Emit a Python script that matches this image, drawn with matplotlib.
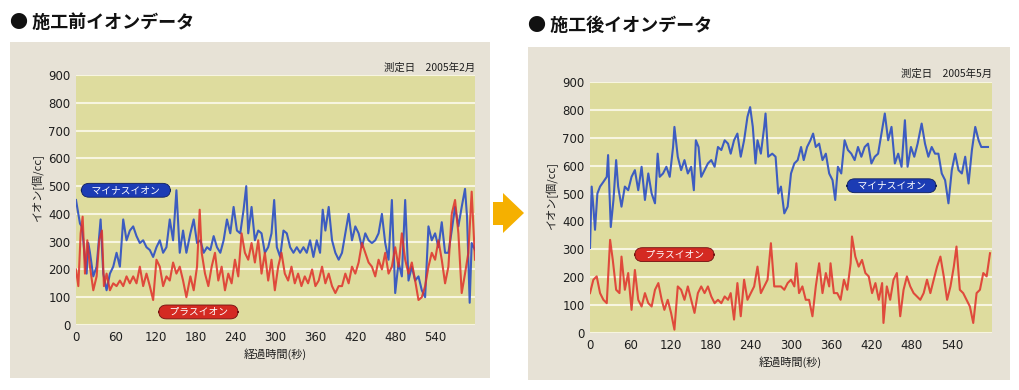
import numpy as np
import matplotlib
matplotlib.use("Agg")
import matplotlib.pyplot as plt
from matplotlib.patches import Rectangle, Polygon

plt.rcParams['font.family'] = ['Noto Sans CJK JP', 'DejaVu Sans']

# ---------------- data ----------------
before_minus_t = [0, 3.5, 6, 8.5, 11, 13.5, 16, 18.5, 21, 26, 31, 37, 41, 46, 51, 56, 61, 66, 71, 76, 81, 86, 91, 96,
                  101, 106, 111, 116, 121, 126, 131, 136, 141, 146, 151, 156, 161, 166, 172, 177, 182, 187, 192, 197,
                  202, 207, 212, 217, 222, 227, 232, 237, 242, 247, 252, 256, 259, 264, 269, 274, 279, 284, 289, 294,
                  298, 302, 307, 312, 317, 322, 327, 332, 337, 342, 347, 352, 357, 362, 367, 371, 375, 380, 385, 390,
                  395, 400, 405, 410, 415, 420, 425, 430, 435, 440, 445, 450, 455, 460, 465, 470, 475, 480, 485, 490,
                  495, 500, 505, 510, 515, 520, 525, 530, 535, 540, 545, 550, 555, 560, 565, 570, 575, 580, 585, 588,
                  592, 595, 600]
before_minus_v = [450, 400, 365, 355, 305, 235, 185, 295, 260, 175, 210, 380, 185, 125, 185, 210, 260, 210, 380, 305,
                  340, 355, 320, 295, 305, 280, 270, 245, 280, 305, 260, 280, 380, 305, 485, 260, 340, 260, 330, 380,
                  295, 305, 260, 280, 270, 320, 280, 260, 305, 380, 330, 425, 340, 330, 415, 500, 330, 425, 305, 340,
                  330, 260, 280, 330, 450, 280, 245, 340, 330, 280, 260, 280, 260, 280, 260, 305, 245, 305, 260, 415,
                  340, 425, 305, 260, 235, 260, 330, 400, 305, 355, 330, 280, 330, 305, 295, 305, 330, 400, 295, 235,
                  450, 115, 225, 175, 450, 160, 210, 160, 175, 125, 100, 355, 305, 330, 280, 370, 260, 260, 340, 425,
                  355, 425, 490, 390, 80, 295, 270]

before_plus_t = [0, 3.5, 7, 10, 13.5, 17, 21, 26, 31, 35, 39, 42, 46, 51, 56, 61, 66, 71, 76, 81, 86, 91, 96, 101,
                 106, 111, 116, 121, 126, 131, 136, 141, 146, 151, 156, 161, 166, 172, 177, 182, 186, 189, 194, 199,
                 204, 209, 214, 219, 224, 229, 234, 239, 244, 249, 254, 259, 264, 269, 274, 279, 284, 289, 294, 299,
                 304, 309, 314, 319, 324, 329, 334, 339, 344, 349, 355, 360, 365, 370, 375, 380, 385, 390, 395, 400,
                 405, 410, 415, 420, 425, 430, 435, 440, 445, 450, 455, 460, 465, 470, 475, 480, 485, 490, 495, 500,
                 505, 510, 515, 520, 525, 530, 535, 540, 545, 550, 555, 560, 565, 570, 575, 580, 585, 590, 595, 600]
before_plus_v = [200, 140, 330, 390, 185, 305, 210, 125, 175, 305, 340, 140, 185, 125, 150, 140, 160, 140, 175, 150,
                 175, 150, 210, 140, 185, 140, 90, 235, 210, 140, 175, 160, 225, 185, 210, 160, 100, 175, 125, 210,
                 415, 260, 185, 140, 210, 260, 160, 210, 125, 185, 150, 235, 175, 330, 260, 235, 295, 225, 305, 185,
                 260, 160, 235, 125, 210, 260, 185, 160, 210, 150, 185, 140, 175, 150, 200, 140, 160, 210, 150, 185,
                 140, 115, 140, 140, 185, 150, 210, 185, 225, 295, 260, 225, 210, 175, 235, 200, 260, 185, 210, 280,
                 210, 330, 235, 185, 225, 160, 90, 100, 140, 210, 260, 235, 305, 235, 150, 210, 400, 450, 330, 115,
                 185, 260, 480, 235]

after_minus_t = [0, 2.5, 5, 7.5, 11, 15, 20, 25, 27, 31, 35, 39, 42, 47, 52, 57, 62, 67, 72, 77, 82, 87, 92, 97,
                 101, 104, 109, 114, 119, 124, 126, 131, 136, 141, 146, 151, 155, 158, 162, 166, 171, 176, 181, 186,
                 191, 196, 201, 206, 210, 215, 220, 225, 230, 235, 239, 243, 247, 250, 255, 260, 262, 266, 272, 277,
                 281, 285, 290, 295, 300, 305, 310, 315, 319, 324, 329, 333, 337, 342, 347, 352, 357, 362, 366, 370,
                 375, 380, 385, 390, 395, 400, 405, 410, 415, 420, 425, 430, 435, 440, 445, 450, 455, 460, 465, 470,
                 474, 479, 484, 489, 495, 500, 505, 510, 515, 520, 525, 530, 535, 540, 545, 550, 555, 560, 565, 570,
                 575, 580, 584, 589, 594]
after_minus_v = [305, 525, 453, 370, 500, 525, 542, 560, 638, 380, 477, 620, 525, 453, 525, 512, 560, 584, 512, 596,
                 477, 572, 500, 465, 643, 560, 572, 596, 560, 667, 739, 632, 584, 620, 572, 596, 512, 691, 667, 560,
                 584, 608, 620, 596, 667, 656, 691, 679, 643, 691, 715, 632, 691, 775, 810, 739, 608, 691, 643, 739,
                 787, 632, 643, 632, 500, 525, 429, 453, 572, 608, 620, 667, 620, 667, 691, 715, 667, 679, 620, 643,
                 572, 548, 477, 596, 572, 691, 656, 643, 620, 667, 632, 667, 679, 608, 632, 643, 715, 787, 691, 739,
                 608, 643, 596, 763, 596, 667, 632, 679, 751, 679, 632, 667, 643, 643, 572, 548, 465, 584, 643, 584,
                 572, 632, 536, 656, 739, 691, 667, 667, 667]

after_plus_t = [0, 5, 10, 15, 20, 25, 30, 34, 39, 44, 47, 52, 57, 62, 67, 72, 77, 82, 87, 92, 97, 102, 107, 111,
                116, 121, 126, 131, 136, 141, 146, 151, 156, 161, 166, 171, 176, 181, 186, 191, 196, 201, 206, 210,
                215, 220, 225, 230, 235, 240, 245, 250, 255, 260, 265, 270, 275, 280, 285, 290, 295, 300, 305, 308,
                312, 317, 322, 327, 332, 337, 342, 347, 352, 357, 359, 364, 369, 374, 379, 384, 389, 391, 396, 401,
                406, 411, 416, 421, 426, 431, 436, 438, 443, 448, 453, 458, 463, 468, 473, 478, 483, 488, 493, 498,
                503, 508, 513, 518, 523, 528, 533, 538, 543, 547, 552, 557, 562, 567, 572, 577, 582, 587, 592, 597]
after_plus_v = [143, 191, 203, 143, 119, 107, 334, 262, 155, 143, 274, 155, 215, 83, 226, 119, 95, 143, 107, 95,
                155, 179, 119, 83, 119, 72, 12, 167, 155, 119, 167, 119, 72, 143, 167, 143, 167, 131, 107, 119,
                107, 131, 119, 143, 48, 179, 60, 191, 119, 143, 167, 238, 143, 167, 191, 322, 167, 167, 167, 155,
                179, 191, 167, 250, 143, 167, 119, 119, 60, 167, 250, 143, 215, 167, 250, 143, 143, 119, 191, 155,
                250, 346, 274, 238, 262, 215, 203, 143, 179, 119, 179, 36, 167, 119, 191, 215, 60, 155, 203, 167,
                143, 131, 119, 143, 191, 143, 191, 238, 274, 203, 119, 167, 238, 310, 155, 143, 119, 95, 36, 143,
                155, 215, 203, 286]

x_ticks = [0, 60, 120, 180, 240, 300, 360, 420, 480, 540]
y_ticks = [0, 100, 200, 300, 400, 500, 600, 700, 800, 900]

titles = ["● 施工前イオンデータ", "● 施工後イオンデータ"]
dates = ["測定日　2005年2月", "測定日　2005年5月"]
minus_label = "マイナスイオン"
plus_label = "プラスイオン"
x_label = "経過時間(秒)"
y_label = "イオン[個/cc]"

# ---------------- styling ----------------
W, H = 1019, 390
PANEL = "#e7e2d6"
PLOT = "#dedc9e"
BLUE = "#2b4ec4"
RED = "#e0302a"
TXT = "#1e1e1e"

fig = plt.figure(figsize=(W / 100, H / 100), dpi=100)
fig.patch.set_facecolor("white")


def fx(x):
    return x / W


def fy(y):
    return 1 - y / H


def panel(x0, y0, x1, y1):
    fig.patches.append(Rectangle((fx(x0), fy(y1)), fx(x1) - fx(x0), fy(y0) - fy(y1),
                                 transform=fig.transFigure, facecolor=PANEL, edgecolor="none", zorder=-2))


panel(10, 42, 490, 378)
panel(528, 47, 1010, 380)

# arrow between the charts
arrow_px = [(493, 202), (503, 202), (503, 193), (524, 213), (503, 233), (503, 225), (493, 225)]
fig.patches.append(Polygon([(fx(a), fy(b)) for a, b in arrow_px], closed=True,
                           transform=fig.transFigure, facecolor="#f5b000", edgecolor="none", zorder=-1))


def make_axes(box, minus_t, minus_v, plus_t, plus_v, title, title_xy, date, date_xy,
              minus_pos, plus_pos, xlabel_xy, ylabel_xy):
    x0, y0, x1, y1 = box
    ax = fig.add_axes([fx(x0), fy(y1), fx(x1) - fx(x0), fy(y0) - fy(y1)], zorder=3)
    ax.set_facecolor(PLOT)
    ax.set_xlim(0, 600)
    ax.set_ylim(0, 900)
    ax.set_yticks(y_ticks)
    ax.set_xticks(x_ticks)
    ax.set_yticklabels([str(v) for v in y_ticks], fontfamily="DejaVu Sans", fontsize=8.5, color=TXT)
    ax.set_xticklabels([str(v) for v in x_ticks], fontfamily="DejaVu Sans", fontsize=8.5, color=TXT)
    ax.tick_params(length=0, pad=4)
    for s in ax.spines.values():
        s.set_visible(False)
    ax.grid(axis="y", color="#f7f5e0", linewidth=1.5)
    ax.set_axisbelow(True)
    ax.plot(minus_t, minus_v, color=BLUE, linewidth=1.5, alpha=0.9, zorder=3)
    ax.plot(plus_t, plus_v, color=RED, linewidth=1.5, alpha=0.85, zorder=4)
    ax.text(minus_pos[0], minus_pos[1], "    " + minus_label + "    ", ha="center", va="center",
            fontsize=7, color="white", zorder=6,
            bbox=dict(boxstyle="round,pad=0.2,rounding_size=0.8", facecolor="#1c3cb4",
                      edgecolor="#102060", linewidth=0.6))
    ax.text(plus_pos[0], plus_pos[1], "    " + plus_label + "    ", ha="center", va="center",
            fontsize=7, color="white", zorder=6,
            bbox=dict(boxstyle="round,pad=0.2,rounding_size=0.8", facecolor="#d42a22",
                      edgecolor="#701010", linewidth=0.6))
    fig.text(fx(title_xy[0]), fy(title_xy[1]), title, ha="left", va="center",
             fontsize=13, fontweight="bold", color="#111111")
    fig.text(fx(date_xy[0]), fy(date_xy[1]), date, ha="right", va="center",
             fontsize=7.5, color=TXT)
    fig.text(fx(xlabel_xy[0]), fy(xlabel_xy[1]), x_label, ha="center", va="center",
             fontsize=8, color=TXT)
    fig.text(fx(ylabel_xy[0]), fy(ylabel_xy[1]), y_label, ha="center", va="center",
             rotation=90, fontsize=8, color=TXT)
    return ax


make_axes((76, 75, 475, 325), before_minus_t, before_minus_v, before_plus_t, before_plus_v,
          titles[0], (10, 22), dates[0], (475, 68), (75, 485), (184, 47), (275, 354), (38, 188))
make_axes((590, 82, 992, 333), after_minus_t, after_minus_v, after_plus_t, after_plus_v,
          titles[1], (528, 25), dates[1], (992, 74), (450, 528), (126, 281), (790, 362), (552, 196))

fig.savefig("out.png", dpi=100)
